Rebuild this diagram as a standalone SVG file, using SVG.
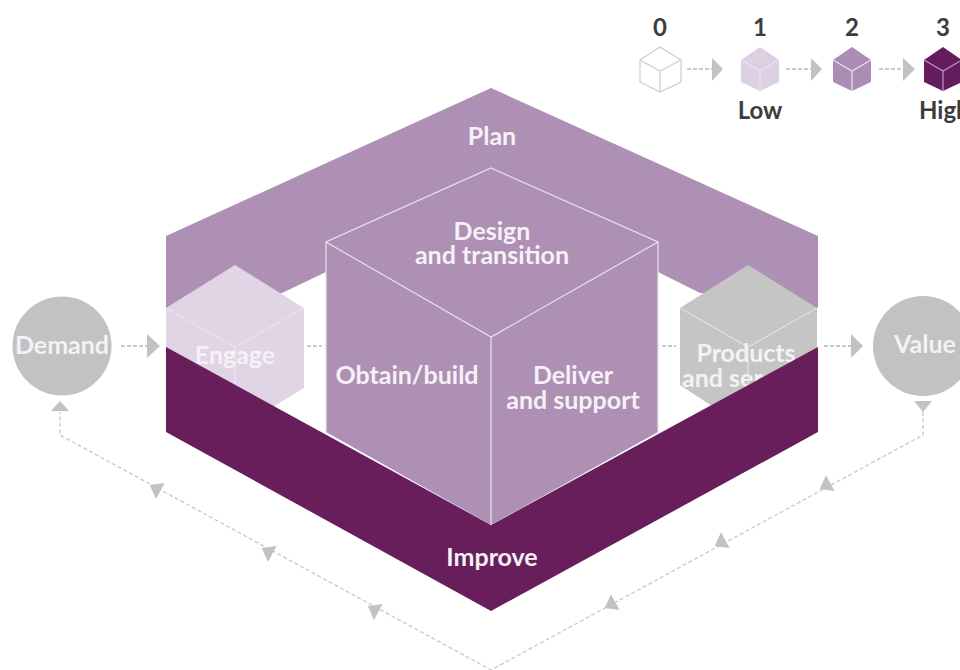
<svg xmlns="http://www.w3.org/2000/svg" width="960" height="670" viewBox="0 0 960 670">
<style>
text{font-family:"Lato","Liberation Sans",sans-serif;font-weight:700}
.w{fill:#f5f1f6;font-size:25px;text-anchor:middle}
.k{fill:#3d3d3d;font-size:24px;text-anchor:middle}
.e{fill:none;stroke:#e9e1ec;stroke-width:1.2}
.f{fill:none;stroke:#ece6ef;stroke-width:1}
.d{fill:none;stroke:#c8c8c8;stroke-width:1.3;stroke-dasharray:4 2.5}
.d2{fill:none;stroke:#cacaca;stroke-width:2.2;stroke-dasharray:4 2}
.t{fill:#c2c2c2}
</style>
<rect width="960" height="670" fill="#fff"/>
<g id="plan"><polygon points="166,236 491,88 818,236 818,308 700,293 658,272 326,272 282,293 166,308" fill="#ae90b5"/><text class="w" x="492" y="145">Plan</text></g>
<g id="engage"><polygon points="235,265 304,308 304,388 235,430 166,390 166,308" fill="#e0d4e5"/><path class="f" d="M166,308 235,347 304,308M235,347V420"/><text class="w" x="235" y="364">Engage</text></g>
<g id="products"><polygon points="748,265 817,308 817,388 748,430 680,385 680,308" fill="#c5c5c5"/><path class="f" d="M680,308 748,347 817,308M748,347V420"/><text class="w" x="746" y="362">Products</text><text class="w" x="682" y="387" style="text-anchor:start">and ser</text></g>
<g id="improve"><polygon points="166,347 491,525 818,347 818,432 491,611 166,432" fill="#691e5c"/><text class="w" x="492" y="566">Improve</text></g>
<g id="core"><polygon points="491,168 658,242 658,432 491,525 326,432 326,242" fill="#ae90b5"/><path class="e" d="M326,432V242L491,168 658,242V432M326,242 491,337 658,242M491,337V525"/><text class="w" x="492" y="240">Design</text><text class="w" x="492" y="264">and transition</text><text class="w" x="407" y="384">Obtain/build</text><text class="w" x="573" y="384">Deliver</text><text class="w" x="573" y="409">and support</text></g>
<g id="demand"><circle class="t" cx="62" cy="346" r="49.5"/><text class="w" x="62" y="354">Demand</text></g>
<g id="value"><circle class="t" cx="923" cy="346" r="50"/><text class="w" x="925" y="353">Value</text></g>
<g id="connectors">
<path class="d2" d="M121,346H148M307,346H322M662,346H676M824,346H851"/>
<polygon class="t" points="147,334 160,346 147,358"/><polygon class="t" points="851,334 863,346 851,358"/>
<path class="d" d="M923,412V435L491,670 60,435V412"/>
<polygon class="t" points="914,401 932,401 923,412"/><polygon class="t" points="60,401 69,411 51,411"/>
<polygon class="t" points="149.7,485 164.6,483.1 156,498.9"/><polygon class="t" points="261.7,548 276.6,546.1 268,561.9"/><polygon class="t" points="367.7,606 382.6,604.1 374,619.9"/>
<polygon class="t" points="819.7,488.9 834.6,491 826,475.2"/><polygon class="t" points="714.7,545.9 729.6,548 721,532.2"/><polygon class="t" points="604.7,607.9 619.6,610 611,594.2"/>
<path class="d2" d="M687,69H712M786,69H811M879,69H903"/>
<polygon class="t" points="712,58 723,69 712,81"/><polygon class="t" points="811,58 822,69 811,81"/><polygon class="t" points="903,58 915,69 903,81"/>
</g>
<g id="level0"><polygon points="660,47 681,60 681,82 660,92 640,82 640,60" fill="#fff" stroke="#cdcdcd" stroke-width="1.2"/><path fill="none" stroke="#cdcdcd" stroke-width="1.2" d="M640,60 660,71 681,60M660,71V92"/><text class="k" x="660" y="36">0</text></g>
<g id="level1"><polygon points="760,47 779,60 779,82 760,91 741,82 741,60" fill="#ddd0e3"/><path class="e" d="M741,60 760,71 779,60M760,71V91"/><text class="k" x="760" y="36">1</text><text class="k" x="760" y="119">Low</text></g>
<g id="level2"><polygon points="852,47 871,60 871,82 852,91 833,82 833,60" fill="#ab8cb4"/><path class="e" d="M833,60 852,71 871,60M852,71V91"/><text class="k" x="852" y="36">2</text></g>
<g id="level3"><polygon points="943,47 962,60 962,82 943,91 924,82 924,60" fill="#651c5e"/><path fill="none" stroke="#b89bbf" stroke-width="1.2" d="M924,60 943,71 962,60M943,71V91"/><text class="k" x="943" y="36">3</text><text class="k" x="919" y="119" style="text-anchor:start">High</text></g>
</svg>
